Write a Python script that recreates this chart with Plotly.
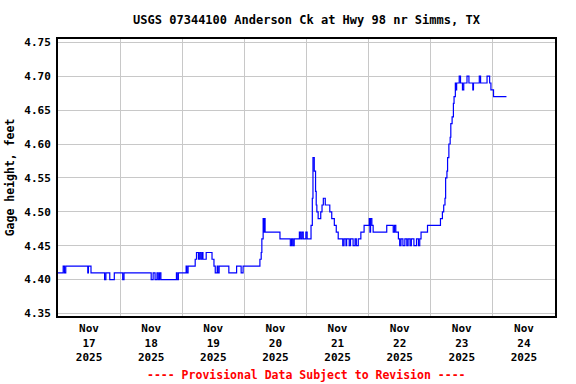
import plotly.graph_objects as go

# Change points of the gage height record (time, feet); drawn as steps
times = [
    "2025-11-17 00:00", "2025-11-17 02:00", "2025-11-17 02:30", "2025-11-17 03:00",
    "2025-11-17 11:30", "2025-11-17 11:45", "2025-11-17 12:45", "2025-11-17 18:00",
    "2025-11-17 18:30", "2025-11-17 20:00", "2025-11-17 21:45",
    "2025-11-18 01:00", "2025-11-18 01:30", "2025-11-18 12:00", "2025-11-18 12:45",
    "2025-11-18 13:30", "2025-11-18 14:15", "2025-11-18 14:45", "2025-11-18 15:15",
    "2025-11-18 15:45", "2025-11-18 21:45", "2025-11-18 22:00", "2025-11-18 22:30",
    "2025-11-19 01:30", "2025-11-19 01:45", "2025-11-19 02:15", "2025-11-19 05:00",
    "2025-11-19 05:30", "2025-11-19 06:15", "2025-11-19 06:45", "2025-11-19 07:15",
    "2025-11-19 07:45", "2025-11-19 08:00", "2025-11-19 09:15", "2025-11-19 11:30",
    "2025-11-19 12:15", "2025-11-19 12:45", "2025-11-19 13:30", "2025-11-19 13:45",
    "2025-11-19 14:15", "2025-11-19 18:00", "2025-11-19 21:00", "2025-11-19 22:45",
    "2025-11-19 23:30",
    "2025-11-20 06:00", "2025-11-20 06:30", "2025-11-20 06:45", "2025-11-20 07:15",
    "2025-11-20 07:30", "2025-11-20 07:45", "2025-11-20 08:00", "2025-11-20 13:45",
    "2025-11-20 17:45", "2025-11-20 18:15", "2025-11-20 18:45", "2025-11-20 19:15",
    "2025-11-20 21:15", "2025-11-20 21:45", "2025-11-20 22:15", "2025-11-20 22:45",
    "2025-11-20 23:45",
    "2025-11-21 00:15", "2025-11-21 01:45", "2025-11-21 02:15", "2025-11-21 02:30",
    "2025-11-21 03:00", "2025-11-21 03:30", "2025-11-21 03:45", "2025-11-21 04:00",
    "2025-11-21 04:30", "2025-11-21 05:30", "2025-11-21 06:00", "2025-11-21 06:30",
    "2025-11-21 07:15", "2025-11-21 09:00", "2025-11-21 09:45", "2025-11-21 10:45",
    "2025-11-21 11:30", "2025-11-21 12:15", "2025-11-21 14:00", "2025-11-21 14:30",
    "2025-11-21 15:15", "2025-11-21 15:30", "2025-11-21 16:30", "2025-11-21 17:00",
    "2025-11-21 18:00", "2025-11-21 18:45", "2025-11-21 19:15", "2025-11-21 20:00",
    "2025-11-21 21:00", "2025-11-21 22:15",
    "2025-11-22 00:15", "2025-11-22 00:30", "2025-11-22 00:45", "2025-11-22 01:15",
    "2025-11-22 01:45", "2025-11-22 07:00", "2025-11-22 09:30", "2025-11-22 10:00",
    "2025-11-22 10:30", "2025-11-22 11:30", "2025-11-22 12:00", "2025-11-22 12:30",
    "2025-11-22 13:15", "2025-11-22 14:00", "2025-11-22 14:45", "2025-11-22 15:15",
    "2025-11-22 16:00", "2025-11-22 16:30", "2025-11-22 17:30", "2025-11-22 18:30",
    "2025-11-22 19:15", "2025-11-22 19:45", "2025-11-22 20:15", "2025-11-22 22:45",
    "2025-11-23 03:45", "2025-11-23 04:30", "2025-11-23 05:00", "2025-11-23 05:30",
    "2025-11-23 05:45", "2025-11-23 06:15", "2025-11-23 06:30", "2025-11-23 07:00",
    "2025-11-23 07:30", "2025-11-23 07:45", "2025-11-23 08:15", "2025-11-23 08:45",
    "2025-11-23 09:00", "2025-11-23 09:30", "2025-11-23 09:45", "2025-11-23 10:00",
    "2025-11-23 11:00", "2025-11-23 11:30", "2025-11-23 12:15", "2025-11-23 12:45",
    "2025-11-23 14:00", "2025-11-23 14:45", "2025-11-23 16:15", "2025-11-23 16:30",
    "2025-11-23 18:45", "2025-11-23 19:15", "2025-11-23 21:45", "2025-11-23 22:45",
    "2025-11-23 23:15", "2025-11-23 23:45",
    "2025-11-24 00:15", "2025-11-24 05:15",
]
gage_ft = [
    4.41, 4.42, 4.41, 4.42,
    4.41, 4.42, 4.41, 4.40,
    4.41, 4.40, 4.41,
    4.40, 4.41, 4.40, 4.41,
    4.40, 4.41, 4.40, 4.41,
    4.40, 4.41, 4.40, 4.41,
    4.42, 4.41, 4.42, 4.43,
    4.44, 4.43, 4.44, 4.43,
    4.44, 4.43, 4.44, 4.43,
    4.42, 4.41, 4.42, 4.41,
    4.42, 4.41, 4.42, 4.41,
    4.42,
    4.43, 4.44, 4.46, 4.49,
    4.47, 4.49, 4.47, 4.46,
    4.45, 4.46, 4.45, 4.46,
    4.47, 4.46, 4.47, 4.46,
    4.47,
    4.46, 4.48, 4.52, 4.58,
    4.56, 4.53, 4.51, 4.50,
    4.49, 4.50, 4.51, 4.52,
    4.51, 4.50, 4.49, 4.48,
    4.47, 4.46, 4.45, 4.46,
    4.45, 4.46, 4.45, 4.46,
    4.45, 4.46, 4.45, 4.46,
    4.47, 4.48,
    4.49, 4.47, 4.49, 4.48,
    4.47, 4.48, 4.47, 4.48,
    4.47, 4.46, 4.45, 4.46,
    4.45, 4.46, 4.45, 4.46,
    4.45, 4.46, 4.45, 4.46,
    4.45, 4.46, 4.47, 4.48,
    4.49, 4.50, 4.51, 4.52,
    4.55, 4.56, 4.58, 4.60,
    4.61, 4.63, 4.64, 4.66,
    4.67, 4.69, 4.68, 4.69,
    4.70, 4.69, 4.68, 4.69,
    4.70, 4.69, 4.68, 4.69,
    4.70, 4.69, 4.70, 4.69,
    4.68, 4.68,
    4.67, 4.67,
]

day_label_times = ["2025-11-%02d 12:00" % d for d in range(17, 25)]
day_labels = ["Nov<br>%d<br>2025" % d for d in range(17, 25)]
y_ticks = [4.35, 4.40, 4.45, 4.50, 4.55, 4.60, 4.65, 4.70, 4.75]

FONT = "DejaVu Sans Mono"
GRID = "#c8c8c8"
W, H = 576, 384

fig = go.Figure()
fig.add_trace(go.Scatter(
    x=times, y=gage_ft, mode="lines", line=dict(color="#0000ff", width=1.2, shape="hv"),
    showlegend=False, hoverinfo="x+y",
))

fig.update_layout(
    width=W, height=H,
    margin=dict(l=58, r=21, t=39, b=68, autoexpand=False),
    paper_bgcolor="white", plot_bgcolor="white",
    font=dict(family=FONT, size=11, color="black", weight="bold"),
    title=dict(text="USGS 07344100 Anderson Ck at Hwy 98 nr Simms, TX",
               font=dict(family=FONT, size=12, color="black", weight="bold"),
               x=0.5, xref="paper", xanchor="center", y=1 - 20 / H, yref="container",
               yanchor="middle"),
    xaxis=dict(
        type="date", range=["2025-11-17 00:00", "2025-11-25 00:00"],
        tickmode="array", tickvals=day_label_times, ticktext=day_labels,
        showgrid=False, ticks="", tickfont=dict(family=FONT, size=11, weight="bold"),
        ticklabelstandoff=1, automargin=False,
        minor=dict(tick0="2025-11-17", dtick=86400000, showgrid=True,
                   gridcolor=GRID, gridwidth=1, ticks=""),
        showline=True, linecolor="black", linewidth=2, mirror=True, zeroline=False,
    ),
    yaxis=dict(
        range=[4.3463, 4.7549], tickmode="array", tickvals=y_ticks, tickformat=".2f",
        showgrid=True, gridcolor=GRID, gridwidth=1, ticks="",
        tickfont=dict(family=FONT, size=11, weight="bold"),
        ticklabelstandoff=3, automargin=False,
        title=dict(text="Gage height, feet", font=dict(family=FONT, size=11.5, weight="bold"),
                   standoff=7),
        showline=True, linecolor="black", linewidth=2, mirror=True, zeroline=False,
    ),
    annotations=[dict(
        text="---- Provisional Data Subject to Revision ----", xref="paper", yref="paper",
        x=0.5, y=-(375 - 316) / 277, xanchor="center", yanchor="middle", showarrow=False,
        font=dict(family=FONT, size=11.5, color="red", weight="bold"),
    )],
)

# remove the browser's default 8px body margin so the figure fills the window exactly
fig.write_html("out.html", config={"displayModeBar": False},
               post_script="document.body.style.margin='0';")
